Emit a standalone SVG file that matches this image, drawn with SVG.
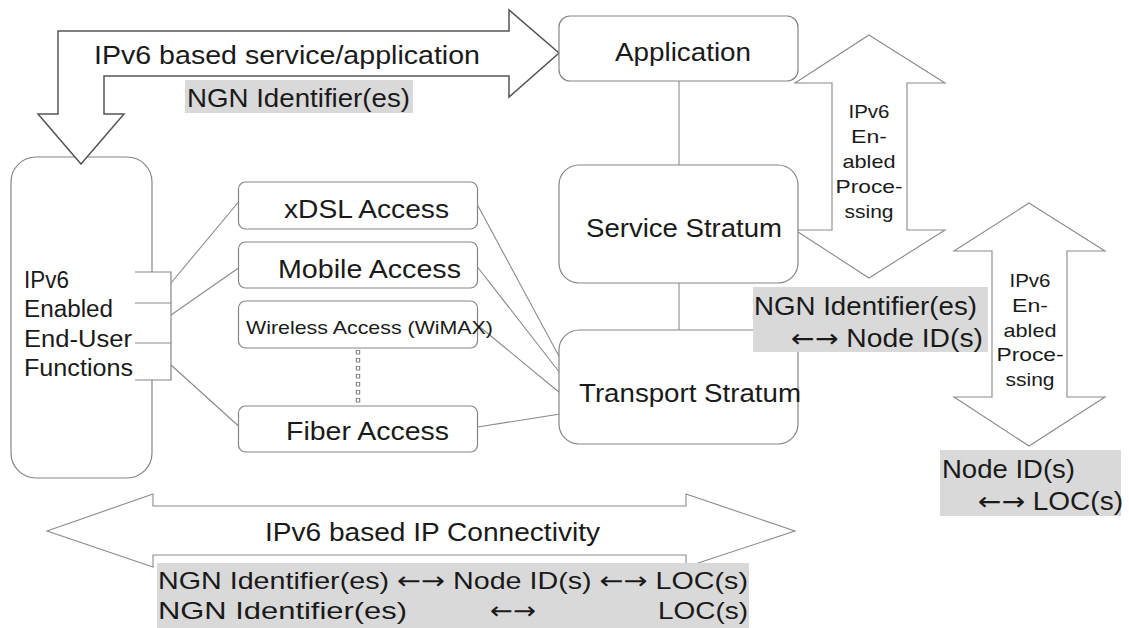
<svg xmlns="http://www.w3.org/2000/svg" width="1129" height="628" viewBox="0 0 1129 628">
  <style>
    text { font-family: "Liberation Sans", Arial, sans-serif; fill: #1a1a1a; }
    .arw { font-family: "DejaVu Sans", sans-serif; }
    .box { fill: #ffffff; stroke: #858585; stroke-width: 1.2; }
    .link { stroke: #8a8a8a; stroke-width: 1.1; fill: none; }
    .fat { fill: #ffffff; stroke: #8a8a8a; stroke-width: 1.1; stroke-linejoin: miter; }
    .bent { fill: #ffffff; stroke: #555555; stroke-width: 1.5; stroke-linejoin: miter; }
    .grey { fill: #d9d9d9; }
    .t25 { font-size: 25px; }
    .t24 { font-size: 24px; }
    .t23 { font-size: 23px; }
    .t19 { font-size: 19px; }
    .mid { text-anchor: middle; }
  </style>

  <!-- wide double arrows behind the boxes -->
  <g id="processing-upper">
    <path class="fat" d="M869,35 L945,83 L907,83 L907,230 L945,230 L869,278 L795,230 L832,230 L832,83 L795,83 Z"/>
    <g class="t19 mid">
      <text x="869" y="118" textLength="41" lengthAdjust="spacingAndGlyphs">IPv6</text>
      <text x="869" y="143" textLength="36" lengthAdjust="spacingAndGlyphs">En-</text>
      <text x="869" y="168" textLength="53" lengthAdjust="spacingAndGlyphs">abled</text>
      <text x="869" y="193" textLength="67" lengthAdjust="spacingAndGlyphs">Proce-</text>
      <text x="869" y="218" textLength="49" lengthAdjust="spacingAndGlyphs">ssing</text>
    </g>
  </g>

  <g id="processing-lower">
    <path class="fat" d="M1029,203 L1105,251 L1067,251 L1067,397 L1105,397 L1029,446 L954,397 L992,397 L992,251 L954,251 Z"/>
    <g class="t19 mid">
      <text x="1030" y="287" textLength="41" lengthAdjust="spacingAndGlyphs">IPv6</text>
      <text x="1030" y="312" textLength="36" lengthAdjust="spacingAndGlyphs">En-</text>
      <text x="1030" y="337" textLength="53" lengthAdjust="spacingAndGlyphs">abled</text>
      <text x="1030" y="361" textLength="67" lengthAdjust="spacingAndGlyphs">Proce-</text>
      <text x="1030" y="386" textLength="49" lengthAdjust="spacingAndGlyphs">ssing</text>
    </g>
  </g>

  <g id="ip-connectivity">
    <path class="fat" d="M47,531 L153,494 L153,506 L686,506 L686,494 L795,531 L686,567 L686,555 L153,555 L153,567 Z"/>
    <text class="t25" x="265" y="541" textLength="335" lengthAdjust="spacingAndGlyphs">IPv6 based IP Connectivity</text>
  </g>

  <!-- connectors -->
  <g id="connectors">
    <line class="link" x1="679" y1="81" x2="679" y2="165"/>
    <line class="link" x1="679" y1="283" x2="679" y2="330"/>
    <line class="link" x1="171" y1="283" x2="238.5" y2="202"/>
    <line class="link" x1="171" y1="315" x2="238.5" y2="268"/>
    <line class="link" x1="171" y1="365" x2="238.5" y2="426"/>
    <line class="link" x1="477.5" y1="205" x2="560" y2="358"/>
    <line class="link" x1="477.5" y1="267" x2="560" y2="373"/>
    <line class="link" x1="477.5" y1="325" x2="560" y2="393"/>
    <line class="link" x1="477.5" y1="427" x2="560" y2="414"/>
    <line x1="358" y1="350" x2="358" y2="405" stroke="#8c8c8c" stroke-width="4.5" stroke-dasharray="4.5 3.5"/>
    <line x1="358" y1="350" x2="358" y2="405" stroke="#ffffff" stroke-width="2" stroke-dasharray="2.5 5.5" stroke-dashoffset="-1"/>
  </g>

  <!-- end-user side -->
  <g id="end-user">
    <rect class="box" x="11" y="157" width="141" height="321" rx="25" ry="25"/>
    <path d="M135,272 H171 V380 H135" fill="#ffffff" stroke="#858585" stroke-width="1.2"/>
    <line class="link" x1="135" y1="303" x2="171" y2="303"/>
    <line class="link" x1="135" y1="343" x2="171" y2="343"/>
    <g class="t23">
      <text x="24" y="288" textLength="45" lengthAdjust="spacingAndGlyphs">IPv6</text>
      <text x="24" y="317" textLength="89" lengthAdjust="spacingAndGlyphs">Enabled</text>
      <text x="24" y="347" textLength="108" lengthAdjust="spacingAndGlyphs">End-User</text>
      <text x="24" y="376" textLength="109" lengthAdjust="spacingAndGlyphs">Functions</text>
    </g>
  </g>

  <!-- service/application arrow -->
  <g id="service-application">
    <path class="bent" d="M81,164 L124,114 L104,114 L104,76 L509,76 L509,97 L559,53 L509,10 L509,31 L58,31 L58,114 L38,114 Z"/>
    <text class="t25" x="94" y="64" textLength="386" lengthAdjust="spacingAndGlyphs">IPv6 based service/application</text>
    <rect class="grey" x="185" y="80" width="228" height="33"/>
    <text class="t25" x="187" y="107" textLength="223" lengthAdjust="spacingAndGlyphs">NGN Identifier(es)</text>
  </g>

  <!-- access networks -->
  <g id="xdsl">
    <rect class="box" x="238.5" y="182" width="239" height="47" rx="7" ry="7"/>
    <text class="t25" x="284" y="218" textLength="165" lengthAdjust="spacingAndGlyphs">xDSL Access</text>
  </g>
  <g id="mobile">
    <rect class="box" x="238.5" y="242" width="239" height="46" rx="7" ry="7"/>
    <text class="t25" x="278" y="278" textLength="183" lengthAdjust="spacingAndGlyphs">Mobile Access</text>
  </g>
  <g id="wireless">
    <rect class="box" x="238.5" y="301" width="239" height="47" rx="7" ry="7"/>
    <text class="t19" x="246" y="334" textLength="247" lengthAdjust="spacingAndGlyphs">Wireless Access (WiMAX)</text>
  </g>
  <g id="fiber">
    <rect class="box" x="238.5" y="406" width="239" height="46" rx="7" ry="7"/>
    <text class="t25" x="286" y="440" textLength="163" lengthAdjust="spacingAndGlyphs">Fiber Access</text>
  </g>

  <!-- strata -->
  <g id="application">
    <rect class="box" x="559" y="16" width="239" height="65" rx="11" ry="11"/>
    <text class="t25" x="615" y="61" textLength="136" lengthAdjust="spacingAndGlyphs">Application</text>
  </g>
  <g id="service-stratum">
    <rect class="box" x="559" y="165" width="239" height="118" rx="20" ry="20"/>
    <text class="t25" x="586" y="237" textLength="196" lengthAdjust="spacingAndGlyphs">Service Stratum</text>
  </g>
  <g id="transport-stratum">
    <rect class="box" x="559" y="330" width="239" height="114" rx="20" ry="20"/>
    <text class="t25" x="579" y="402" textLength="222" lengthAdjust="spacingAndGlyphs">Transport Stratum</text>
  </g>

  <!-- identifier mapping labels -->
  <g id="ngn-to-node">
    <rect class="grey" x="753" y="287" width="235" height="65"/>
    <text class="t25" x="754" y="315" textLength="223" lengthAdjust="spacingAndGlyphs">NGN Identifier(es)</text>
    <text class="t25" x="791" y="347" textLength="192" lengthAdjust="spacingAndGlyphs"><tspan class="arw">←→</tspan> Node ID(s)</text>
  </g>
  <g id="node-to-loc">
    <rect class="grey" x="940" y="450" width="181" height="66"/>
    <text class="t25" x="942" y="478" textLength="133" lengthAdjust="spacingAndGlyphs">Node ID(s)</text>
    <text class="t25" x="978" y="510" textLength="145" lengthAdjust="spacingAndGlyphs"><tspan class="arw">←→</tspan> LOC(s)</text>
  </g>
  <g id="ngn-node-loc">
    <rect class="grey" x="157" y="563" width="592" height="65"/>
    <text class="t24" x="158" y="589" textLength="590" lengthAdjust="spacingAndGlyphs">NGN Identifier(es) <tspan class="arw">←→</tspan> Node ID(s) <tspan class="arw">←→</tspan> LOC(s)</text>
    <text class="t24" x="158" y="619" textLength="249" lengthAdjust="spacingAndGlyphs">NGN Identifier(es)</text>
    <text class="t24 arw" x="490" y="619" textLength="46" lengthAdjust="spacingAndGlyphs">←→</text>
    <text class="t24" x="658" y="619" textLength="90" lengthAdjust="spacingAndGlyphs">LOC(s)</text>
  </g>
</svg>
